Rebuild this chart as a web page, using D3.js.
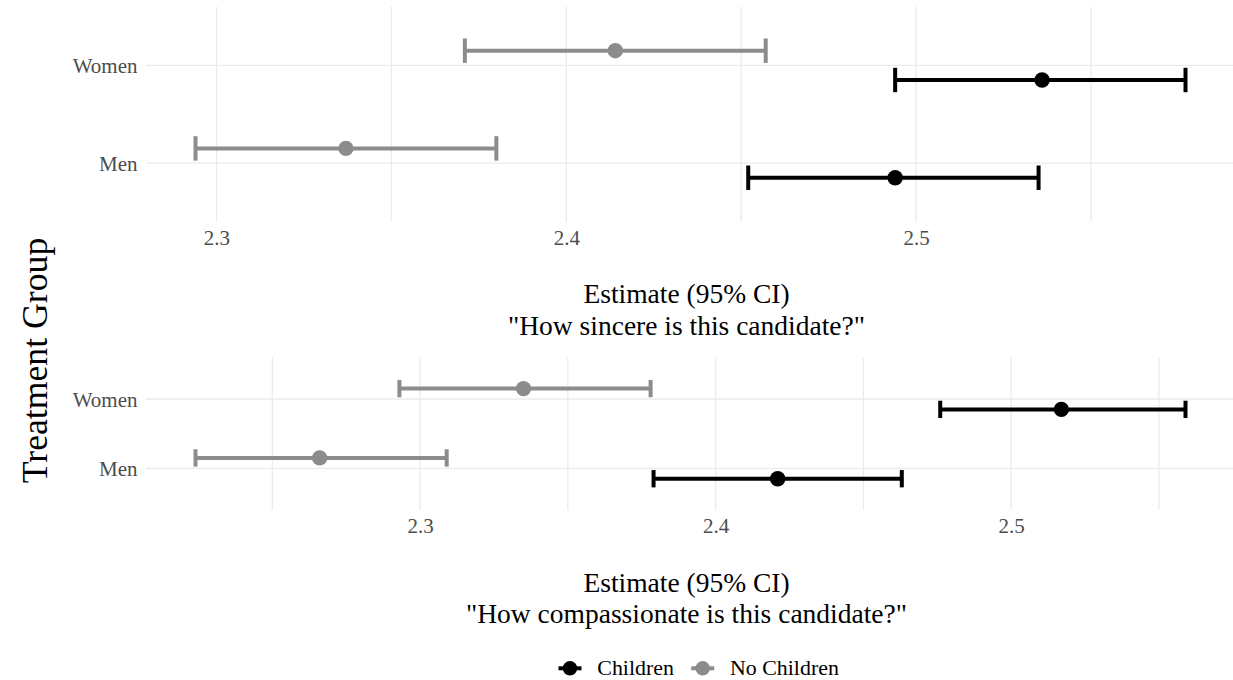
<!DOCTYPE html>
<html>
<head>
<meta charset="utf-8">
<script src="https://cdn.jsdelivr.net/npm/d3@7"></script>
<style>
  html, body { margin: 0; padding: 0; background: #fff; }
  svg { display: block; }
  text { font-family: "Liberation Serif", "Times New Roman", Times, serif; }
</style>
</head>
<body>
<svg id="chart" width="1233" height="680"></svg>
<script>
// Treatment groups (bottom to top) and parental-status series
const groups = ["Men", "Women"];
const series = ["Children", "No Children"];
const seriesColors = ["#000000", "#8c8c8c"];

// "How sincere is this candidate?" — estimates with 95% CI, ordered as groups
const sincereChildrenEst = [2.494, 2.536];
const sincereChildrenLo  = [2.452, 2.494];
const sincereChildrenHi  = [2.535, 2.577];
const sincereNoChildEst  = [2.337, 2.414];
const sincereNoChildLo   = [2.294, 2.371];
const sincereNoChildHi   = [2.380, 2.457];

// "How compassionate is this candidate?"
const compChildrenEst = [2.421, 2.517];
const compChildrenLo  = [2.379, 2.476];
const compChildrenHi  = [2.463, 2.559];
const compNoChildEst  = [2.266, 2.335];
const compNoChildLo   = [2.224, 2.293];
const compNoChildHi   = [2.309, 2.378];

const xTickLabels = [2.3, 2.4, 2.5];
const xGridValues = [2.25, 2.3, 2.35, 2.4, 2.45, 2.5, 2.55];

const xTitle = "Estimate (95% CI)";
const yTitle = "Treatment Group";

function rows(est, lo, hi, s) {
  return groups.map((g, i) => ({ group: g, series: s, est: est[i], lo: lo[i], hi: hi[i] }));
}

const panels = [
  {
    question: "\"How sincere is this candidate?\"",
    data: rows(sincereChildrenEst, sincereChildrenLo, sincereChildrenHi, "Children")
      .concat(rows(sincereNoChildEst, sincereNoChildLo, sincereNoChildHi, "No Children")),
    top: 6.7, bottom: 221.7
  },
  {
    question: "\"How compassionate is this candidate?\"",
    data: rows(compChildrenEst, compChildrenLo, compChildrenHi, "Children")
      .concat(rows(compNoChildEst, compNoChildLo, compNoChildHi, "No Children")),
    top: 357.4, bottom: 509.9
  }
];

const svg = d3.select("#chart");
const left = 146, right = 1235;
const gridColor = "#ebebeb";
const colour = d3.scaleOrdinal().domain(series).range(seriesColors);
const dodge = { "Children": -0.15, "No Children": 0.15 };
const capHalf = 0.125;
const strokeW = 4;
const dotR = 7.7;

panels.forEach(p => {
  const lo = d3.min(p.data, d => d.lo), hi = d3.max(p.data, d => d.hi);
  const pad = (hi - lo) * 0.05;
  const x = d3.scaleLinear().domain([lo - pad, hi + pad]).range([left, right]);
  // discrete positions 1..n with 0.6 expansion on each side
  const y = d3.scaleLinear().domain([0.4, groups.length + 0.6]).range([p.bottom, p.top]);
  const yPos = g => groups.indexOf(g) + 1;

  const g = svg.append("g");

  // vertical grid
  g.append("g").selectAll("line")
    .data(xGridValues.filter(v => v >= x.domain()[0] && v <= x.domain()[1]))
    .join("line")
    .attr("x1", d => x(d)).attr("x2", d => x(d))
    .attr("y1", p.top).attr("y2", p.bottom)
    .attr("stroke", gridColor).attr("stroke-width", 1.3);

  // horizontal grid
  g.append("g").selectAll("line")
    .data(groups)
    .join("line")
    .attr("x1", left).attr("x2", right)
    .attr("y1", d => y(yPos(d))).attr("y2", d => y(yPos(d)))
    .attr("stroke", gridColor).attr("stroke-width", 1.3);

  // x axis labels
  const xAxis = d3.axisBottom(x).tickValues(xTickLabels).tickSize(0).tickPadding(0)
    .tickFormat(d3.format(".1f"));
  const xa = g.append("g").attr("transform", `translate(0,${p.bottom})`).call(xAxis);
  xa.select(".domain").remove();
  xa.selectAll("text")
    .attr("font-family", "Liberation Serif, Times New Roman, serif")
    .attr("font-size", 21).attr("fill", "#4d4d4d")
    .attr("dy", null).attr("y", 23.3);

  // y axis labels
  const yAxis = d3.axisLeft(y).tickValues(groups.map((d, i) => i + 1)).tickSize(0).tickPadding(0)
    .tickFormat(d => groups[d - 1]);
  const ya = g.append("g").attr("transform", `translate(${137.5},0)`).call(yAxis);
  ya.select(".domain").remove();
  ya.selectAll("text")
    .attr("font-family", "Liberation Serif, Times New Roman, serif")
    .attr("font-size", 21).attr("fill", "#4d4d4d")
    .attr("x", 0).attr("dy", "0.35em");

  // error bars
  const bars = g.append("g").selectAll("g")
    .data(p.data)
    .join("g")
    .attr("stroke", d => colour(d.series))
    .attr("stroke-width", strokeW)
    .attr("fill", "none");

  bars.append("line")
    .attr("x1", d => x(d.lo)).attr("x2", d => x(d.hi))
    .attr("y1", d => y(yPos(d.group) + dodge[d.series]))
    .attr("y2", d => y(yPos(d.group) + dodge[d.series]));
  bars.append("line")
    .attr("x1", d => x(d.lo)).attr("x2", d => x(d.lo))
    .attr("y1", d => y(yPos(d.group) + dodge[d.series] + capHalf))
    .attr("y2", d => y(yPos(d.group) + dodge[d.series] - capHalf));
  bars.append("line")
    .attr("x1", d => x(d.hi)).attr("x2", d => x(d.hi))
    .attr("y1", d => y(yPos(d.group) + dodge[d.series] + capHalf))
    .attr("y2", d => y(yPos(d.group) + dodge[d.series] - capHalf));

  // point estimates
  g.append("g").selectAll("circle")
    .data(p.data)
    .join("circle")
    .attr("cx", d => x(d.est))
    .attr("cy", d => y(yPos(d.group) + dodge[d.series]))
    .attr("r", dotR)
    .attr("fill", d => colour(d.series));

  // x title (two lines)
  const cx = 686.5;
  const t = g.append("text")
    .attr("text-anchor", "middle")
    .attr("font-size", 27.5)
    .attr("fill", "#000");
  t.append("tspan").attr("x", cx).attr("y", p.bottom + 81.6).text(xTitle);
  t.append("tspan").attr("x", cx).attr("y", p.bottom + 113.3).text(p.question);
});

// y title
svg.append("text")
  .attr("transform", `translate(47,360.5) rotate(-90)`)
  .attr("text-anchor", "middle")
  .attr("font-size", 35.7)
  .attr("fill", "#000")
  .text(yTitle);

// legend
const legendX = [570, 702.7];
const legendY = 668.3;
const lg = svg.append("g").selectAll("g")
  .data(series)
  .join("g")
  .attr("transform", (d, i) => `translate(${legendX[i]},${legendY})`);
lg.append("line")
  .attr("x1", -11.5).attr("x2", 11.5)
  .attr("stroke", d => colour(d)).attr("stroke-width", strokeW);
lg.append("circle")
  .attr("r", 7.2)
  .attr("fill", d => colour(d));
lg.append("text")
  .attr("x", 27.3)
  .attr("y", 675 - legendY)
  .attr("font-size", 21.9)
  .attr("fill", "#000")
  .text(d => d);
</script>
</body>
</html>
